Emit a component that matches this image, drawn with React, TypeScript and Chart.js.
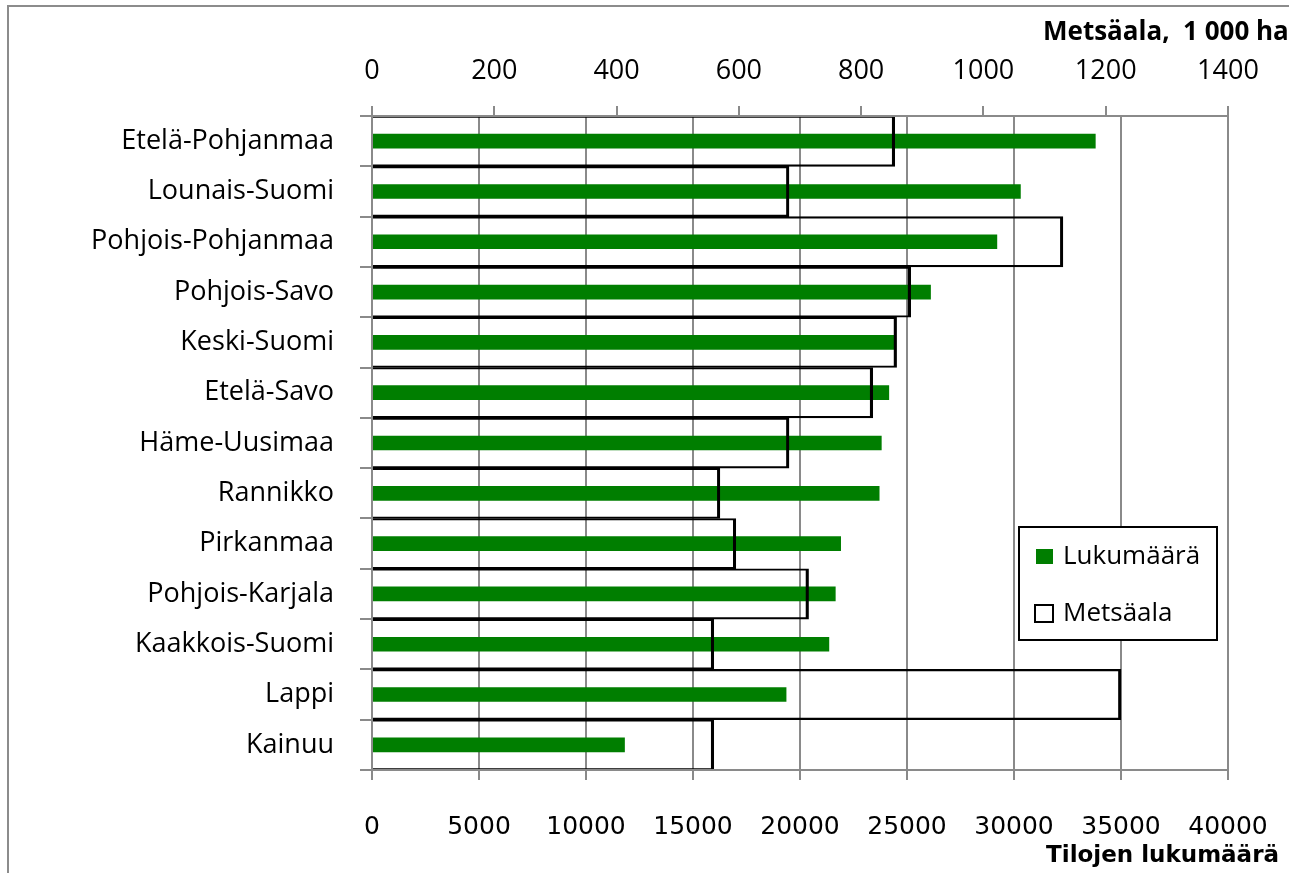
import React, { useEffect, useRef } from "react";
import { Chart, registerables } from "chart.js";
Chart.register(...registerables);

const regions = [
  "Etelä-Pohjanmaa",
  "Lounais-Suomi",
  "Pohjois-Pohjanmaa",
  "Pohjois-Savo",
  "Keski-Suomi",
  "Etelä-Savo",
  "Häme-Uusimaa",
  "Rannikko",
  "Pirkanmaa",
  "Pohjois-Karjala",
  "Kaakkois-Suomi",
  "Lappi",
  "Kainuu",
];
const lukumaara = [33800, 30300, 29200, 26100, 24450, 24150, 23800, 23700, 21900, 21650, 21350, 19350, 11800];
const metsaala = [855, 682, 1130, 881, 858, 819, 682, 569, 595, 714, 559, 1225, 559];
const legendLabels = ["Lukumäärä", "Metsäala"];
const topTitle = "Metsäala,  1 000 ha";
const bottomTitle = "Tilojen lukumäärä";

const GRAY = "#8a8a8a";
const GREEN = "#007e00";
const SANS = '"Open Sans"';

const overlay = {
  id: "overlay",
  afterDatasetsDraw(chart: any) {
    const { ctx, chartArea: a } = chart;
    ctx.save();
    ctx.strokeStyle = GRAY;
    ctx.lineWidth = 2;
    ctx.beginPath();
    ctx.moveTo(a.left, a.top);
    ctx.lineTo(a.right, a.top);
    ctx.moveTo(a.left, a.top);
    ctx.lineTo(a.left, a.bottom);
    ctx.moveTo(a.left, a.bottom);
    ctx.lineTo(a.right, a.bottom);
    ctx.stroke();
    ctx.restore();
  },
  afterDraw(chart: any) {
    const { ctx } = chart;
    ctx.save();
    // outer frame
    ctx.strokeStyle = "#8c8c8c";
    ctx.lineWidth = 2;
    ctx.beginPath();
    ctx.moveTo(8, 900);
    ctx.lineTo(8, 6);
    ctx.lineTo(1300, 6);
    ctx.stroke();
    // titles
    ctx.fillStyle = "#000";
    ctx.textBaseline = "middle";
    ctx.font = `bold 26px ${SANS}`;
    ctx.textAlign = "left";
    ctx.fillText(topTitle, 1043, 33);
    ctx.font = `bold 23px "DejaVu Sans"`;
    ctx.textAlign = "right";
    ctx.fillText(bottomTitle, 1279, 856);
    // legend
    ctx.fillStyle = "#fff";
    ctx.fillRect(1019, 527, 198, 113);
    ctx.strokeStyle = "#000";
    ctx.lineWidth = 2;
    ctx.strokeRect(1019, 527, 198, 113);
    ctx.fillStyle = GREEN;
    ctx.fillRect(1036, 549, 17, 15);
    ctx.fillStyle = "#fff";
    ctx.fillRect(1035, 605, 18, 17);
    ctx.strokeRect(1035, 605, 18, 17);
    ctx.fillStyle = "#000";
    ctx.textAlign = "left";
    ctx.font = `26px ${SANS}`;
    ctx.fillText(legendLabels[0], 1063, 557);
    ctx.fillText(legendLabels[1], 1063, 614);
    ctx.restore();
  },
};

const plain = (v: any) => String(v);

export default function App() {
  const ref = useRef<HTMLCanvasElement>(null);
  useEffect(() => {
    const chart = new Chart(ref.current as HTMLCanvasElement, {
      type: "bar",
      data: {
        labels: regions,
        datasets: [
          {
            label: legendLabels[0],
            data: lukumaara,
            xAxisID: "x",
            backgroundColor: GREEN,
            barThickness: 14,
            grouped: false,
            order: 1,
          } as any,
          {
            label: legendLabels[1],
            data: metsaala,
            xAxisID: "x2",
            backgroundColor: "rgba(0,0,0,0)",
            borderColor: "#000",
            borderWidth: { top: 1.5, bottom: 1.5, right: 2.5, left: 0 },
            borderSkipped: false,
            barPercentage: 1,
            categoryPercentage: 1,
            grouped: false,
            order: 0,
          } as any,
        ],
      },
      options: {
        indexAxis: "y",
        responsive: false,
        animation: false,
        layout: { padding: { left: 0, right: 61, top: 0, bottom: 0 } },
        plugins: { legend: { display: false }, tooltip: { enabled: false } },
        scales: {
          y: {
            type: "category",
            position: "left",
            offset: true,
            grid: { offset: true, drawOnChartArea: false, drawTicks: true, tickLength: 12, color: GRAY, lineWidth: 2 },
            border: { display: true, color: GRAY, width: 2 },
            ticks: { font: { family: SANS, size: 27 }, color: "#000", padding: 26 },
            afterFit(s: any) {
              s.width = 372;
              s.paddingTop = 0;
              s.paddingBottom = 0;
            },
          },
          x: {
            type: "linear",
            position: "bottom",
            min: 0,
            max: 40000,
            ticks: { stepSize: 5000, callback: plain, font: { family: "DejaVu Sans", size: 25 }, color: "#000", padding: 32, maxRotation: 0, autoSkip: false },
            grid: { color: GRAY, lineWidth: 2, tickLength: 10 },
            border: { display: true, color: GRAY, width: 2 },
            afterFit(s: any) {
              s.height = 103;
              s.paddingLeft = 0;
              s.paddingRight = 0;
            },
          },
          x2: {
            type: "linear",
            position: "top",
            min: 0,
            max: 1400,
            ticks: { stepSize: 200, callback: plain, font: { family: SANS, size: 27 }, color: "#000", padding: 18, maxRotation: 0, autoSkip: false },
            grid: { drawOnChartArea: false, color: GRAY, lineWidth: 2, tickLength: 10 },
            border: { display: true, color: GRAY, width: 2 },
            afterFit(s: any) {
              s.height = 116;
              s.paddingLeft = 0;
              s.paddingRight = 0;
            },
          },
        },
      } as any,
      plugins: [overlay],
    });
    return () => chart.destroy();
  }, []);
  return (
    <div style={{ position: "absolute", left: 0, top: 0, width: 1289, height: 873, background: "#fff" }}>
      <canvas ref={ref} width={1289} height={873} style={{ display: "block" }} />
    </div>
  );
}
